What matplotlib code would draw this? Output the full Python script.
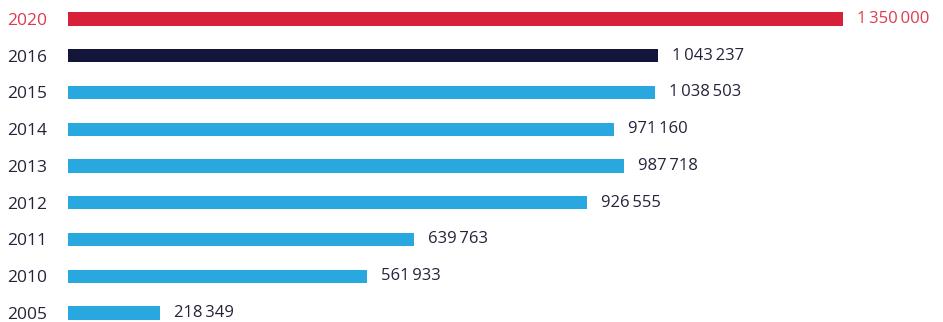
import matplotlib.pyplot as plt

years = ["2020", "2016", "2015", "2014", "2013", "2012", "2011", "2010", "2005"]
values = [1350000, 1043237, 1038503, 971160, 987718, 926555, 639763, 561933, 218349]
bar_colors = ["#d7213b", "#13163a"] + ["#29a8e0"] * 7
text_colors = ["#de3a4f"] + ["#23243a"] * 8

plt.rcParams["font.family"] = ["Open Sans", "DejaVu Sans"]

fig = plt.figure(figsize=(9.43, 3.22), dpi=100)
ax = fig.add_axes([68 / 943, 0, 1 - 68 / 943, 1])

pos = list(range(len(years)))
ax.barh(pos, values, height=0.36, color=bar_colors)

ax.set_xlim(65900, 1515800)
ax.set_ylim(8.245, -0.517)

for i, v in enumerate(values):
    label = f"{v:,}".replace(",", "\u2009")
    ax.annotate(label, (v, i), xytext=(10, 0), textcoords="offset points",
                va="center", ha="left", fontsize=12, fontweight="medium",
                color=text_colors[i])

ax.set_yticks(pos)
ax.set_yticklabels(years, fontsize=12.5, fontweight="medium")
ax.tick_params(axis="y", length=0, pad=44)
for lbl, c in zip(ax.get_yticklabels(), text_colors):
    lbl.set_ha("left")
    lbl.set_color(c)
ax.set_xticks([])
for s in ax.spines.values():
    s.set_visible(False)

fig.savefig("out.png", dpi=100)
